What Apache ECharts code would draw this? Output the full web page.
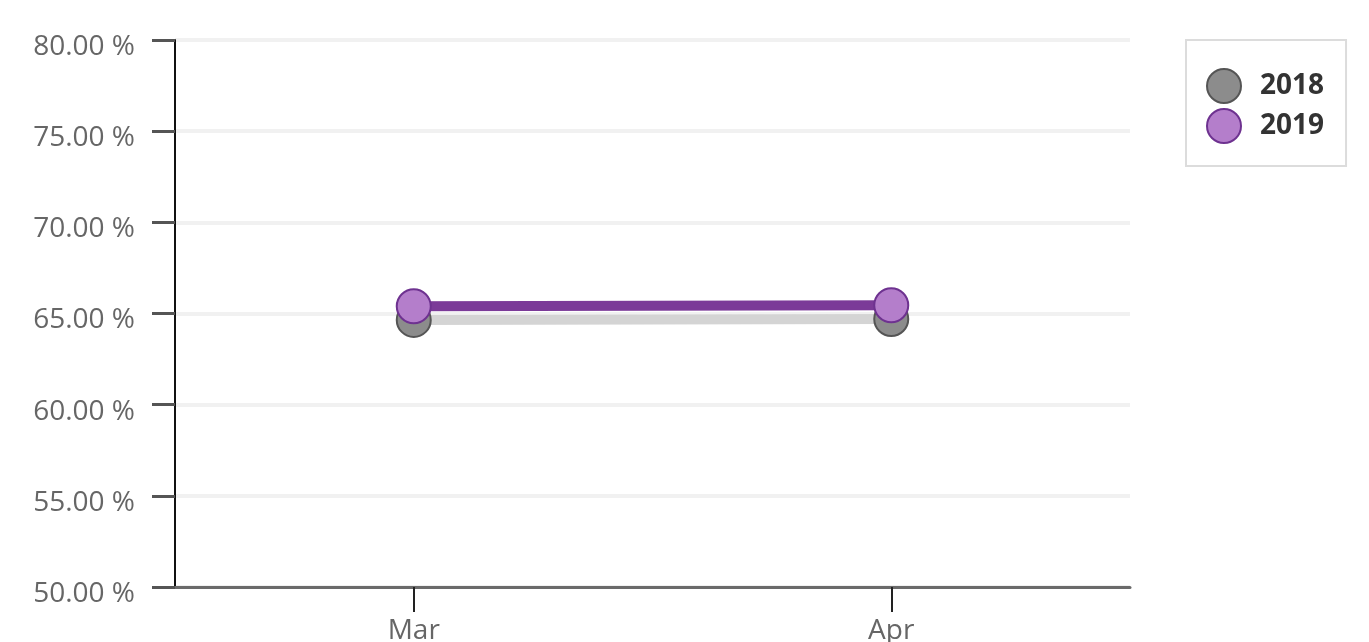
<!DOCTYPE html>
<html>
<head>
<meta charset="utf-8">
<script src="https://cdn.jsdelivr.net/npm/echarts@6/dist/echarts.min.js"></script>
<style>
  html, body { margin: 0; padding: 0; background: #fff; }
  #chart { width: 1369px; height: 642px; }
</style>
</head>
<body>
<div id="chart"></div>
<script>
// Monthly share, percent
const months = ['Mar', 'Apr'];
const values2018 = [64.65, 64.7];
const values2019 = [65.4, 65.45];
const seriesNames = ['2018', '2019'];

const chart = echarts.init(document.getElementById('chart'));

chart.setOption({
  backgroundColor: '#ffffff',
  animation: false,
  grid: { left: 175, right: 239, top: 40, bottom: 55, outerBoundsMode: 'none' },
  legend: {
    orient: 'vertical',
    left: 1186,
    top: 40,
    data: seriesNames,
    icon: 'circle',
    itemWidth: 34,
    itemHeight: 34,
    itemGap: 4,
    itemStyle: { borderWidth: 2 },
    padding: [28, 22, 22, 20],
    borderColor: '#dcdcdc',
    borderWidth: 2,
    textStyle: {
      fontFamily: 'Open Sans', fontWeight: 'bold', fontSize: 28, color: '#333',
      padding: [0, 0, 0, 14]
    }
  },
  xAxis: {
    type: 'category',
    data: months,
    boundaryGap: true,
    axisLine: { lineStyle: { color: '#6a6a6a', width: 3 } },
    axisTick: { show: true, alignWithLabel: true, length: 25, lineStyle: { color: '#222', width: 2 } },
    axisLabel: { fontFamily: 'Open Sans', fontSize: 28, color: '#666', margin: 30 },
    splitLine: { show: false }
  },
  yAxis: {
    type: 'value',
    min: 50,
    max: 80,
    interval: 5,
    axisLine: { show: true, lineStyle: { color: '#111', width: 2 } },
    axisTick: { show: true, length: 23, lineStyle: { color: '#555', width: 3 } },
    axisLabel: {
      fontFamily: 'Open Sans', fontSize: 28, color: '#666', margin: 40,
      verticalAlign: 'top', lineHeight: 14,
      formatter: v => v.toFixed(2) + ' %'
    },
    splitLine: { lineStyle: { color: '#f1f1f1', width: 4 } }
  },
  series: [
    {
      name: '2018',
      type: 'line',
      data: values2018,
      symbol: 'circle',
      symbolSize: 34,
      z: 2,
      lineStyle: { color: '#d4d4d4', width: 10 },
      itemStyle: { color: '#8c8c8c', borderColor: '#555', borderWidth: 2 }
    },
    {
      name: '2019',
      type: 'line',
      data: values2019,
      symbol: 'circle',
      symbolSize: 34,
      z: 3,
      lineStyle: { color: '#7b3a98', width: 10 },
      itemStyle: { color: '#b47ecb', borderColor: '#6e3290', borderWidth: 2 }
    }
  ]
});
</script>
</body>
</html>
